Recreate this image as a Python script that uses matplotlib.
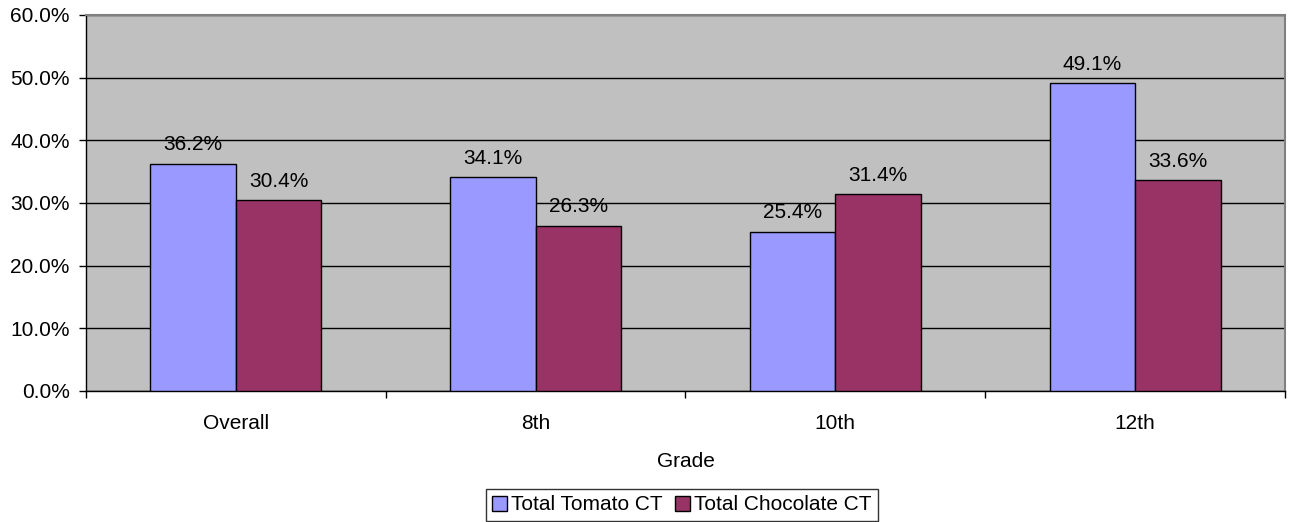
import matplotlib
matplotlib.use("Agg")
import matplotlib.pyplot as plt
from matplotlib.ticker import FuncFormatter, FixedLocator
import numpy as np

plt.rcParams['font.family'] = ['Liberation Sans', 'DejaVu Sans']

grades = ["Overall", "8th", "10th", "12th"]
tomato = [36.2, 34.1, 25.4, 49.1]
chocolate = [30.4, 26.3, 31.4, 33.6]
series_names = ["Total Tomato CT", "Total Chocolate CT"]
colors = ["#9999FF", "#993366"]

FS = 15

fig = plt.figure(figsize=(12.96, 5.22), dpi=100)
ax = fig.add_axes([86 / 1296, 1 - 391 / 522, (1285 - 86) / 1296, (391 - 15) / 522])
ax.set_facecolor("#C0C0C0")

x = np.arange(len(grades)) + 0.5
w = 0.285
b1 = ax.bar(x - w / 2, tomato, w, color=colors[0], edgecolor="black", linewidth=1.0,
            label=series_names[0], zorder=3)
b2 = ax.bar(x + w / 2, chocolate, w, color=colors[1], edgecolor="black", linewidth=1.0,
            label=series_names[1], zorder=3)

for bars, vals in ((b1, tomato), (b2, chocolate)):
    for rect, v in zip(bars, vals):
        ax.annotate(f"{v:.1f}%", (rect.get_x() + rect.get_width() / 2, v),
                    xytext=(0, 7), textcoords="offset points",
                    ha="center", va="bottom", fontsize=FS, zorder=4)

ax.set_ylim(0, 60)
ax.set_xlim(0, len(grades))
ax.yaxis.set_major_locator(FixedLocator(np.arange(0, 61, 10)))
ax.yaxis.set_major_formatter(FuncFormatter(lambda v, p: f"{v:.1f}%"))
ax.grid(axis="y", color="black", linewidth=1.0, zorder=1)
ax.set_axisbelow(True)

ax.set_xticks(np.arange(0, len(grades) + 1))
ax.set_xticklabels([])
ax.set_xticks(x, minor=True)
ax.set_xticklabels(grades, minor=True)
ax.tick_params(axis="x", which="major", direction="out", length=4.7, width=1, color="black")
ax.tick_params(axis="x", which="minor", length=0, pad=16.5, labelsize=FS)
ax.tick_params(axis="y", direction="out", length=4.7, width=1, labelsize=FS, pad=7)

for side in ("left", "bottom"):
    ax.spines[side].set_color("black")
    ax.spines[side].set_linewidth(1.0)
for side in ("top", "right"):
    ax.spines[side].set_color("#808080")
    ax.spines[side].set_linewidth(1.5)

ax.set_xlabel("Grade", fontsize=FS, labelpad=14)

leg = fig.legend(handles=[b1, b2], labels=series_names, loc="center",
                 bbox_to_anchor=(682 / 1296, 1 - 505 / 522), ncol=2, fontsize=FS,
                 frameon=True, fancybox=False, handlelength=0.7, handleheight=0.7,
                 handletextpad=0.2, columnspacing=0.6, borderpad=0.3,
                 borderaxespad=0)
leg.get_frame().set_edgecolor("black")
leg.get_frame().set_linewidth(1.0)

fig.savefig("out.png", dpi=100)
